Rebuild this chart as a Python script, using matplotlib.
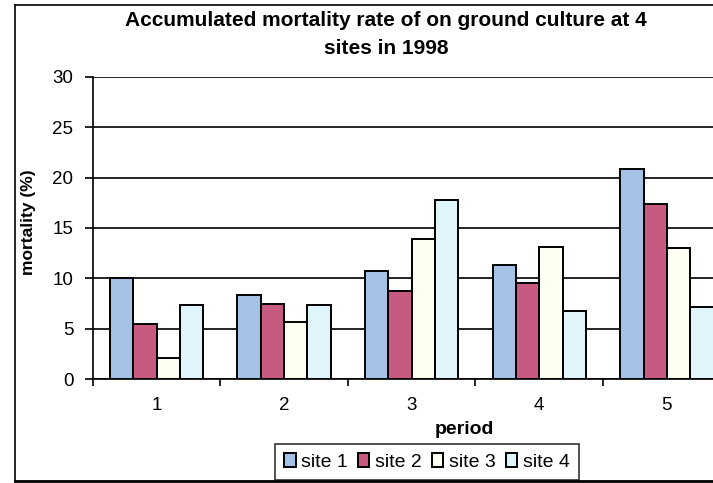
import matplotlib
matplotlib.use("Agg")
import matplotlib.pyplot as plt
from matplotlib.lines import Line2D
import numpy as np

plt.rcParams['font.family'] = ['Liberation Sans', 'DejaVu Sans']

# accumulated mortality (%) per period for each site
periods = ['1', '2', '3', '4', '5']
site_names = ['site 1', 'site 2', 'site 3', 'site 4']
site1 = [10.0, 8.4, 10.7, 11.3, 20.8]
site2 = [5.5, 7.5, 8.8, 9.5, 17.4]
site3 = [2.1, 5.7, 13.9, 13.1, 13.0]
site4 = [7.4, 7.4, 17.8, 6.8, 7.2]
colors = ['#a4c1e6', '#c75a80', '#fffef2', '#e0f5fb']

W, H = 713, 483
fig = plt.figure(figsize=(W / 100, H / 100), dpi=100)

# plot area runs past the right edge of the chart
left, right, bottom, top = 92.7, 730.7, 379.3, 76.7
ax = fig.add_axes([left / W, 1 - bottom / H, (right - left) / W, (bottom - top) / H])

x = np.arange(len(periods))
width = 0.183
for i, (vals, c, name) in enumerate(zip([site1, site2, site3, site4], colors, site_names)):
    ax.bar(x + (i - 1.5) * width, vals, width, color=c, edgecolor='black',
           linewidth=1.4, label=name, zorder=3)

ax.set_xlim(-0.5, len(periods) - 0.5)
ax.set_ylim(0, 30)
ax.set_yticks(np.arange(0, 31, 5))
ax.yaxis.grid(True, color='black', linewidth=1.2, zorder=0)
ax.set_axisbelow(True)

# tick marks between categories, labels centred on them
ax.set_xticks(np.arange(len(periods) + 1) - 0.5)
ax.set_xticklabels([])
ax.set_xticks(x, minor=True)
ax.set_xticklabels(periods, minor=True, fontsize=13.5)
ax.tick_params(axis='x', which='major', length=5, width=1.2, direction='out')
ax.tick_params(axis='x', which='minor', length=0, pad=13)
ax.tick_params(axis='y', length=6, width=1.2, direction='out', labelsize=13.5, pad=8)

for s in ['top', 'right']:
    ax.spines[s].set_visible(False)
ax.spines['left'].set_linewidth(1.2)
ax.spines['bottom'].set_linewidth(1.2)

fig.text(29 / W, 1 - 222 / H, 'mortality (%)', rotation=90, fontsize=12.5,
         fontweight='bold', ha='center', va='center')
fig.text(464 / W, 1 - 430 / H, 'period', fontsize=14, fontweight='bold',
         ha='center', va='center')
fig.text(386 / W, 1 - 21 / H, 'Accumulated mortality rate of on ground culture at 4',
         fontsize=15, fontweight='bold', ha='center', va='center')
fig.text(386 / W, 1 - 48 / H, 'sites in 1998',
         fontsize=15, fontweight='bold', ha='center', va='center')

leg = fig.legend(loc='center', bbox_to_anchor=(427 / W, 1 - 462 / H), ncol=4,
                 fontsize=14, frameon=True, fancybox=False, edgecolor='black',
                 handlelength=0.6, handleheight=0.7, handletextpad=0.3,
                 columnspacing=0.5, borderpad=0.45)
leg.get_frame().set_linewidth(1.2)

# chart area border (left, top, bottom)
fig.add_artist(Line2D([15 / W, 15 / W], [1 - 5 / H, 1 - 481 / H], color='black', lw=1.2))
fig.add_artist(Line2D([15 / W, 1], [1 - 5 / H, 1 - 5 / H], color='black', lw=1.2))
fig.add_artist(Line2D([15 / W, 1], [1 - 481 / H, 1 - 481 / H], color='black', lw=2.0))

fig.savefig('out.png', dpi=100)
